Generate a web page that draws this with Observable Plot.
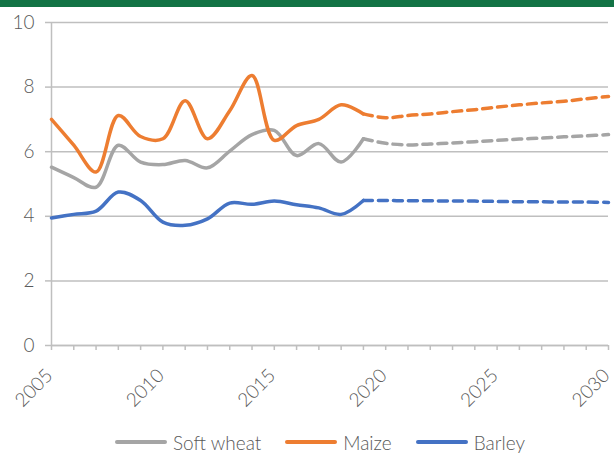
<!DOCTYPE html>
<html><head><meta charset="utf-8">
<script src="https://cdn.jsdelivr.net/npm/d3@7"></script>
<script src="https://cdn.jsdelivr.net/npm/@observablehq/plot@0.6"></script>
<style>
html,body{margin:0;padding:0;background:#fff;width:614px;height:453px;overflow:hidden;font-family:Lato,sans-serif;}
#bar{height:7px;background:#127345;}
#chart{position:absolute;top:7px;left:0;}
#legend{position:absolute;top:432px;left:115px;display:flex;align-items:center;height:20px;color:#595959;font-size:19px;font-weight:300;white-space:nowrap;}
.item{display:flex;align-items:center;margin-right:24px;}
.sw{width:52px;height:4px;border-radius:2px;margin-right:6px;}
</style></head><body>
<div id="bar"></div><div id="chart"></div><div id="legend"></div>
<script>
const years = [2005,2006,2007,2008,2009,2010,2011,2012,2013,2014,2015,2016,2017,2018,2019,2020,2021,2022,2023,2024,2025,2026,2027,2028,2029,2030];
const softWheat = [5.52,5.2,4.9,6.2,5.68,5.6,5.73,5.5,6.02,6.53,6.66,5.88,6.25,5.68,6.4,6.26,6.21,6.24,6.27,6.31,6.35,6.39,6.42,6.46,6.49,6.53];
const maize = [7.0,6.2,5.37,7.12,6.47,6.4,7.58,6.4,7.27,8.36,6.35,6.81,7.0,7.45,7.17,7.05,7.12,7.17,7.24,7.3,7.38,7.45,7.51,7.56,7.64,7.71];
const barley = [3.95,4.06,4.16,4.75,4.49,3.82,3.72,3.92,4.41,4.37,4.47,4.36,4.26,4.06,4.49,4.49,4.48,4.48,4.47,4.47,4.46,4.45,4.45,4.44,4.44,4.43];
const seriesNames = ["Soft wheat","Maize","Barley"];
const seriesColors = ["#A5A5A5","#ED7D31","#4472C4"];
const yTicks = [0,2,4,6,8,10];
const xLabels = [2005,2010,2015,2020,2025,2030];
const lastActual = 2019;

const seriesValues = [softWheat, maize, barley];
const rows = [];
seriesNames.forEach((name, s) => seriesValues[s].forEach((v, i) => rows.push({series: name, year: years[i], value: v})));
const actual = rows.filter(d => d.year <= lastActual);
const proj = rows.filter(d => d.year >= lastActual);

const chart = Plot.plot({
  width: 614,
  height: 418,
  marginTop: 15,
  marginBottom: 80,
  marginLeft: 51,
  marginRight: 6,
  style: {fontFamily: "Lato, sans-serif", fontWeight: 300, background: "#fff"},
  x: {domain: [2005, 2030]},
  y: {domain: [0, 10]},
  color: {domain: seriesNames, range: seriesColors},
  marks: [
    Plot.gridY(yTicks, {stroke: "#bfbfbf", strokeOpacity: 1, strokeWidth: 1.5}),
    Plot.ruleY([0], {stroke: "#bfbfbf", strokeWidth: 1.5}),
    Plot.ruleX([2005], {stroke: "#bfbfbf", strokeWidth: 1.5}),
    Plot.axisY({ticks: yTicks, tickSize: 6, tickPadding: 11, fontSize: 19, stroke: "#bfbfbf", strokeWidth: 1.5, fill: "#595959", label: null}),
    Plot.axisX({ticks: years, tickSize: 5, tickPadding: 0, stroke: "#bfbfbf", strokeWidth: 1.5, label: null, tickFormat: () => ""}),
    Plot.text(xLabels, {x: d => d, y: 0, text: d => String(d), rotate: -45, textAnchor: "end", dx: -2, dy: 27, fontSize: 19, fill: "#595959"}),
    Plot.line(actual, {x: "year", y: "value", z: "series", stroke: "series", strokeWidth: 3.5, curve: "catmull-rom"}),
    Plot.line(proj, {x: "year", y: "value", z: "series", stroke: "series", strokeWidth: 3.5, strokeDasharray: "9,6", curve: "catmull-rom"})
  ]
});
document.getElementById("chart").appendChild(chart);

const legend = document.getElementById("legend");
seriesNames.forEach((name, i) => {
  const it = document.createElement("div");
  it.className = "item";
  const sw = document.createElement("div");
  sw.className = "sw";
  sw.style.background = seriesColors[i];
  const t = document.createElement("span");
  t.textContent = name;
  it.appendChild(sw); it.appendChild(t);
  legend.appendChild(it);
});
</script>
</body></html>
